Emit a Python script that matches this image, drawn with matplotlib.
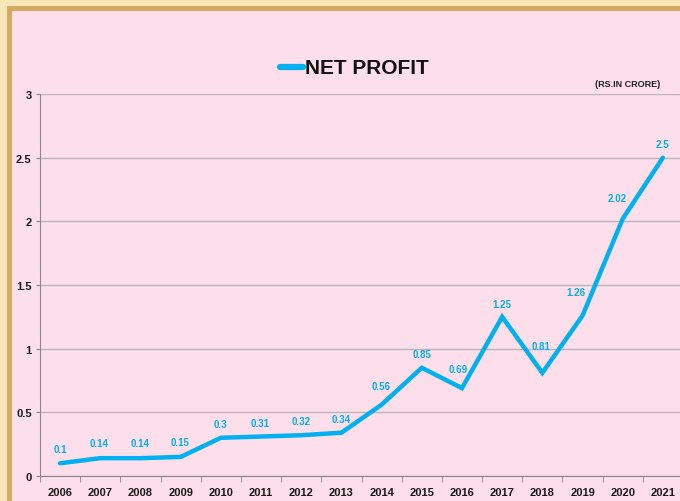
import matplotlib.pyplot as plt
from matplotlib.patches import Rectangle

years = ['2006', '2007', '2008', '2009', '2010', '2011', '2012', '2013',
         '2014', '2015', '2016', '2017', '2018', '2019', '2020', '2021']
profit = [0.1, 0.14, 0.14, 0.15, 0.3, 0.31, 0.32, 0.34,
          0.56, 0.85, 0.69, 1.25, 0.81, 1.26, 2.02, 2.5]
labels = ['0.1', '0.14', '0.14', '0.15', '0.3', '0.31', '0.32', '0.34',
          '0.56', '0.85', '0.69', '1.25', '0.81', '1.26', '2.02', '2.5']

# label offsets in pixels (dx, dy up), as placed in the original chart
lab_dx = [0, -1, 0, -1, 0, -1, 0, 0, 0, 0, -4, 0, -1, -7, -6, 0]
lab_dy = [14, 15, 15, 15, 14, 14, 14, 14, 19, 14, 19, 13, 27, 24, 21, 14]

blue = '#00B0F0'
pink = '#FCDFEA'
fam = ['Liberation Sans', 'DejaVu Sans']

W, H = 680, 502
fig = plt.figure(figsize=(W / 100, H / 100), dpi=100)
fig.patch.set_facecolor('#F6E6B8')

# gold frame + pink panel
fig.patches.append(Rectangle((7 / W, 0), 1, 1 - 7 / H, transform=fig.transFigure,
                             facecolor='#D4AA62', edgecolor='none', zorder=-2))
fig.patches.append(Rectangle((12 / W, 0), 1, 1 - 12 / H, transform=fig.transFigure,
                             facecolor=pink, edgecolor='none', zorder=-1))

ax = fig.add_axes([40 / W, 1 - 477 / H, 643 / W, (477 - 95) / H])
ax.set_facecolor('none')
x = list(range(len(years)))
ax.plot(x, profit, color=blue, lw=3.2, solid_capstyle='round',
        solid_joinstyle='miter', zorder=3)
for xi, v, t, dx, dy in zip(x, profit, labels, lab_dx, lab_dy):
    ax.annotate(t, (xi, v), xytext=(dx * 0.72, dy * 0.72), textcoords='offset points',
                ha='center', va='center', color=blue, fontsize=7,
                fontweight='bold', family=fam)

ax.set_xlim(-0.5, len(years) - 0.5)
ax.set_ylim(0, 3)
ax.set_yticks([0, 0.5, 1, 1.5, 2, 2.5, 3])
ax.set_yticklabels(['0', '0.5', '1', '1.5', '2', '2.5', '3'])
ax.set_xticks(x)
ax.set_xticklabels(years)
ax.set_xticks([i - 0.5 for i in range(len(years) + 1)], minor=True)
ax.tick_params(axis='x', which='major', length=0, pad=8)
ax.tick_params(axis='x', which='minor', length=4, color='#888888')
ax.tick_params(axis='y', length=3, color='#888888', pad=3)
for lab in ax.get_xticklabels() + ax.get_yticklabels():
    lab.set_fontweight('bold')
    lab.set_fontsize(8)
    lab.set_family(fam)
    lab.set_color('#1a1a1a')
ax.grid(axis='y', color='#BDB3B8', lw=1)
ax.set_axisbelow(True)
for s in ['top', 'right']:
    ax.spines[s].set_visible(False)
ax.spines['left'].set_color('#888888')
ax.spines['bottom'].set_color('#888888')

# title with legend line
fig.add_artist(plt.Line2D([280 / W, 303 / W], [1 - 68 / H, 1 - 68 / H],
                          transform=fig.transFigure, color=blue, lw=4.5,
                          solid_capstyle='round'))
fig.text(305 / W, 1 - 68 / H, 'NET PROFIT', ha='left', va='center',
         fontsize=15, fontweight='bold', family=fam, color='#111111')
fig.text(660 / W, 1 - 85 / H, '(RS.IN CRORE)', ha='right', va='center',
         fontsize=6.5, fontweight='bold', family=fam, color='#222222')

fig.savefig('out.png', dpi=100, facecolor=fig.get_facecolor())
